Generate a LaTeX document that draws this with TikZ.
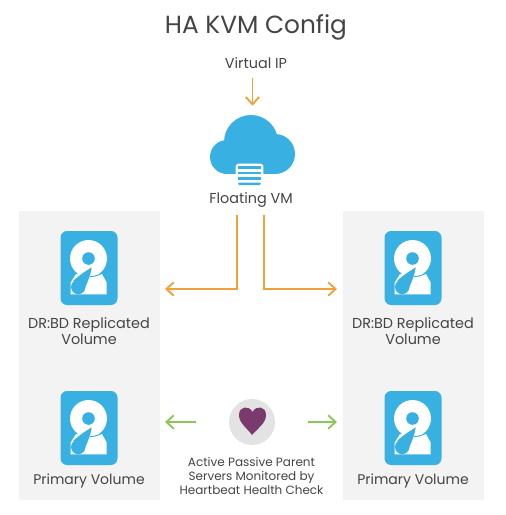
\documentclass[tikz,border=0pt]{standalone}
\usepackage{fontspec}
\setmainfont{Poppins}
\usepackage{xcolor}
\usetikzlibrary{arrows.meta, positioning}

\definecolor{hddblue}{HTML}{39B0E2}
\definecolor{linkorange}{HTML}{F0A239}
\definecolor{linkgreen}{HTML}{8DC558}
\definecolor{heartpurple}{HTML}{7B3A6D}
\definecolor{panelgray}{HTML}{F3F3F3}
\definecolor{textgray}{HTML}{444444}

\begin{document}
\begin{tikzpicture}[
    x=0.75pt, y=-0.75pt,
    label/.style={inner sep=0pt, align=center, text=textgray, font=\fontsize{10.8}{12}\selectfont},
    panel/.style={fill=panelgray, draw=none, minimum width=105.75pt, minimum height=216.75pt, inner sep=0pt},
    hddbody/.style={fill=hddblue, rounded corners=5pt, minimum width=42.75pt, minimum height=55.5pt, inner sep=0pt},
    arrow/.style={-{Straight Barb[length=5.5pt, width=10pt]}, line width=1.4pt},
    pics/hdd/.style={code={
        \node[hddbody] (-body) at (0,0) {};
        \fill[white] (-0.5,-9.5) circle (18.5);
        \fill[white] (-18.3,26.3) -- (-18.3,14.5) -- (-13,6) -- (13,6) -- (17.7,14.5) -- (17.7,26.3) -- cycle;
        \draw[hddblue, line width=0.7pt] (1,8.7) .. controls (6,8.5) and (11,7) .. (15.3,3.7);
        \fill[hddblue] (-0.5,-9.5) circle (6.3);
        \fill[hddblue] (2.7,-0.7) .. controls (2,6) and (-1,13) .. (-4,20) -- (-16,13) .. controls (-9,6.5) and (-3,3) .. cycle;
        \fill[hddblue] (-10.8,19) circle (7.2);
    }}
]
\useasboundingbox (0,0) rectangle (506,515);

% Panels
\node[panel] (leftpanel) at (89.5,355.5) {};
\node[panel] (rightpanel) at (413.5,355.5) {};

% Title
\node[label, font=\fontsize{18.6}{20}\selectfont] (title) at (256,27.5) {HA KVM Config};

% Cloud
\node[label, minimum height=22.5pt] (vip) at (256,63) {Virtual IP};
\node[inner sep=0pt, minimum width=63.75pt, minimum height=44.25pt] (cloud) at (252.5,144.5) {};
\fill[hddblue] (251,142) circle (27);
\fill[hddblue] (227,157) circle (17);
\fill[hddblue] (275,154) circle (20);
\fill[hddblue] (227,150) rectangle (275,174);
\fill[white, rounded corners=2pt] (235.7,163.7) rectangle (263.3,177);
\fill[white] (238,176) rectangle (261,187);
\fill[hddblue] (238,166) rectangle (261,169);
\fill[hddblue] (238,171.5) rectangle (261,174);
\fill[hddblue] (238,177) rectangle (261,179.5);
\fill[hddblue, rounded corners=1pt] (238,182.5) rectangle (261,185);
\node[label, minimum height=22.5pt] (floating) at (251,200) {Floating VM};

% Disks
\pic (diskul) at (89,268) {hdd};
\pic (diskur) at (413,268) {hdd};
\pic (diskll) at (89,428) {hdd};
\pic (disklr) at (413,428) {hdd};
\node[label] (replleft) at (89,331) {DR:BD Replicated\\Volume};
\node[label] (replright) at (413,331) {DR:BD Replicated\\Volume};
\node[label, font=\fontsize{10.5}{12}\selectfont] (primleft) at (89,481) {Primary Volume};
\node[label, font=\fontsize{10.5}{12}\selectfont] (primright) at (413,481) {Primary Volume};

% Heartbeat
\node[circle, fill=black!11, minimum size=34.5pt, inner sep=0pt] (beat) at (252,422) {};
\fill[heartpurple] (252,435) .. controls (247,428) and (239,423) .. (239,415) .. controls (239,406) and (249,405) .. (252.5,412) .. controls (256,405) and (266,406) .. (266,415) .. controls (266,423) and (258,428) .. (252,435) -- cycle;
\node[label, font=\fontsize{9}{10.4}\selectfont] (beatlabel) at (251.5,476) {Active Passive Parent\\Servers Monitored by\\Heartbeat Health Check};

\coordinate (tipleft) at (165,289);
\coordinate (tipright) at (337,289);
\coordinate (hbleft) at (165,422);
\coordinate (hbright) at (337,422);

% Connections
\draw[arrow, color=linkorange, shorten >=6.75pt] (vip.south -| cloud.north) -- (cloud.north);
\draw[arrow, color=linkorange] ([xshift=-10.5pt]floating.south) |- (tipleft);
\draw[arrow, color=linkorange] ([xshift=9.75pt]floating.south) |- (tipright);
\draw[arrow, color=linkgreen, shorten <=24.75pt] (beat) -- (hbleft);
\draw[arrow, color=linkgreen, shorten <=24.75pt] (beat) -- (hbright);

\end{tikzpicture}
\end{document}
